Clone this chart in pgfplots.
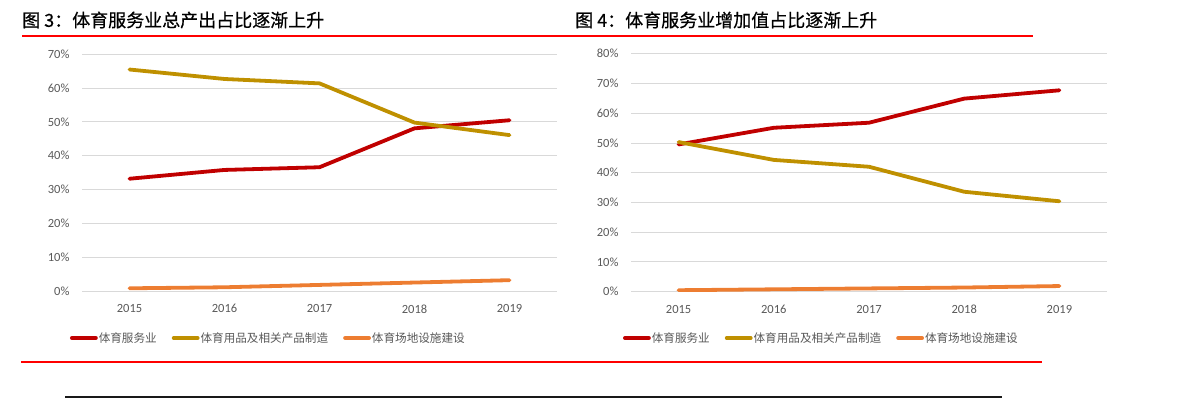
\documentclass[border=0pt]{standalone}
\usepackage{fontspec}
\setmainfont{Carlito}
\newfontfamily\cjk{Noto Sans CJK SC}
\newfontfamily\cjkt{Noto Sans CJK SC}[FakeBold=0.6]
\usepackage{pgfplots}
\pgfplotsset{compat=1.18}
\definecolor{cRed}{HTML}{C00000}
\definecolor{cGold}{HTML}{BF9000}
\definecolor{cOrange}{HTML}{ED7D31}
\definecolor{tickgray}{HTML}{595959}
\definecolor{gridgray}{HTML}{D9D9D9}

\pgfplotstableread{
x red gold orange
0 33.2 65.5 0.8
1 35.8 62.7 1.1
2 36.6 61.4 1.8
3 48.1 49.8 2.5
4 50.5 46.1 3.2
}\tabA
\pgfplotstableread{
x red gold orange
0 49.5 50.3 0.5
1 55.1 44.3 0.8
2 56.8 42.0 1.1
3 64.9 33.6 1.4
4 67.7 30.4 1.9
}\tabB

\pgfplotsset{
 mystyle/.style={
  scale only axis, anchor=south west,
  xmin=-0.5, xmax=4.5, ymin=0,
  xtick={0,...,4}, xticklabels={2015,2016,2017,2018,2019},
  axis line style={draw=none},
  major tick length=0pt,
  ymajorgrids, grid style={gridgray, line width=0.9pt},
  ytick distance=10,
  yticklabel={\pgfmathprintnumber{\tick}\%},
  tick label style={font=\fontsize{12.5}{14}\selectfont, text=tickgray},
  yticklabel style={xshift=-9pt},
  xticklabel style={yshift=-10pt},
  /pgf/number format/assume math mode=true,
  legend style={draw=none, fill=none, font=\cjk\fontsize{11.6}{14}\selectfont, text=tickgray,
    legend columns=3, anchor=west, inner sep=0pt, nodes={inner sep=1pt},
    /tikz/every even column/.append style={column sep=14pt}},
  legend image code/.code={\draw[#1, line cap=round] (0pt,0pt) -- (24pt,0pt);},
 },
 ln/.style={line width=3.8pt, line join=round, line cap=round, no marks, #1},
}

\begin{document}
\begin{tikzpicture}
\path[use as bounding box] (0,0) rectangle (1196pt,398pt);
% titles
\node[anchor=west, inner sep=0pt, font=\cjkt\fontsize{18}{20}\selectfont] at (22pt,378pt) {图 3：体育服务业总产出占比逐渐上升};
\node[anchor=west, inner sep=0pt, font=\cjkt\fontsize{18}{20}\selectfont] at (575pt,378pt) {图 4：体育服务业增加值占比逐渐上升};
\draw[red, line width=1.1pt] (22pt,362pt) -- (1033pt,362pt);
\draw[red, line width=1.1pt] (21pt,36pt) -- (1042pt,36pt);
\draw[black!90, line width=1.8pt] (65pt,1.2pt) -- (1002pt,1.2pt);

\begin{axis}[mystyle, at={(82pt,107pt)}, width=475pt, height=236.7pt, ymax=70,
  legend style={at={(-0.0257,-0.1986)}}]
\addplot[ln=cRed] table[x=x,y=red]{\tabA};
\addplot[ln=cGold] table[x=x,y=gold]{\tabA};
\addplot[ln=cOrange] table[x=x,y=orange]{\tabA};
\legend{体育服务业,体育用品及相关产品制造,体育场地设施建设}
\end{axis}

\begin{axis}[mystyle, at={(631pt,106.3pt)}, width=476pt, height=238pt, ymax=80,
  legend style={at={(-0.0172,-0.1945)}}]
\addplot[ln=cRed] table[x=x,y=red]{\tabB};
\addplot[ln=cGold] table[x=x,y=gold]{\tabB};
\addplot[ln=cOrange] table[x=x,y=orange]{\tabB};
\legend{体育服务业,体育用品及相关产品制造,体育场地设施建设}
\end{axis}
\end{tikzpicture}
\end{document}
